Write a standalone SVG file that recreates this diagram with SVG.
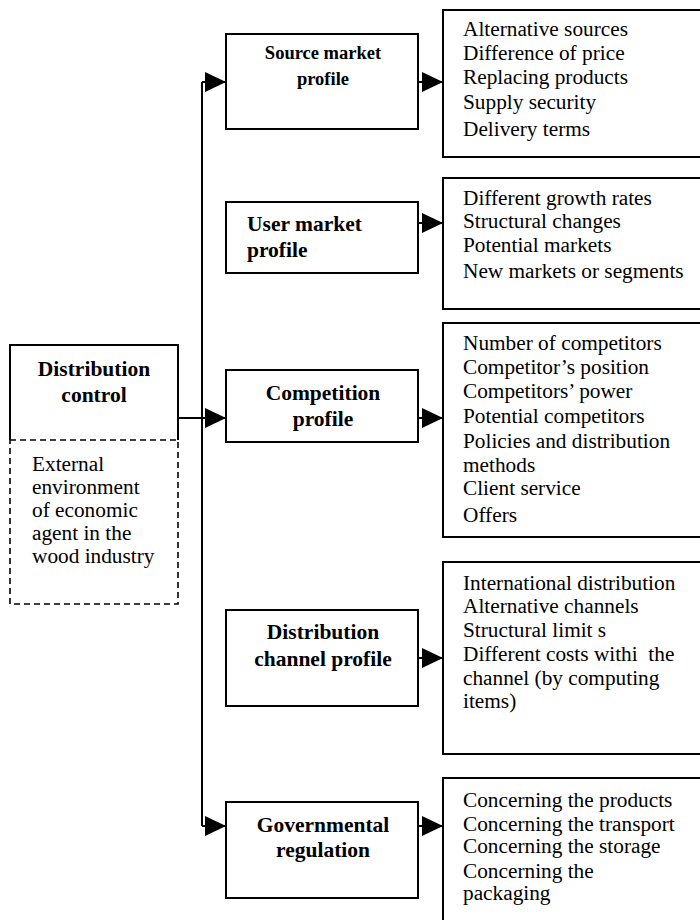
<svg xmlns="http://www.w3.org/2000/svg" width="700" height="920" viewBox="0 0 700 920">
<style>
.box{fill:#fff;stroke:#000;stroke-width:2}
.ln{fill:none;stroke:#000;stroke-width:2}
.dash{fill:none;stroke:#000;stroke-width:1.6;stroke-dasharray:6 4}
.b{font-family:"Liberation Serif","Times New Roman",serif;font-weight:bold;font-size:21.5px;fill:#000}
.bs{font-family:"Liberation Serif","Times New Roman",serif;font-weight:bold;font-size:18.5px;fill:#000}
.r{font-family:"Liberation Serif","Times New Roman",serif;font-size:21.3px;fill:#000}
.c{text-anchor:middle}
</style>
<defs>
<marker id="ah" markerUnits="userSpaceOnUse" markerWidth="22" markerHeight="22" refX="21" refY="10" orient="auto" viewBox="0 0 22 22">
<path d="M0,0 L21,10 L0,20 Z" fill="#000"/>
</marker>
</defs>
<rect width="700" height="920" fill="#fff"/>

<g id="connectors">
<path class="ln" d="M178,418 H226" marker-end="url(#ah)"/>
<path class="ln" d="M202,82 V826"/>
<path class="ln" d="M202,82 H226" marker-end="url(#ah)"/>
<path class="ln" d="M202,826 H226" marker-end="url(#ah)"/>
<path class="ln" d="M418,82 H443" marker-end="url(#ah)"/>
<path class="ln" d="M418,223 H443" marker-end="url(#ah)"/>
<path class="ln" d="M418,418 H443" marker-end="url(#ah)"/>
<path class="ln" d="M418,658 H443" marker-end="url(#ah)"/>
<path class="ln" d="M418,826 H443" marker-end="url(#ah)"/>
</g>

<g id="distribution-control">
<path class="ln" d="M10,440 V345 H178 V440"/>
<path class="dash" d="M10,440 H178 V604 H10 Z"/>
<text class="b c" x="94" y="376">Distribution</text>
<text class="b c" x="94" y="402">control</text>
<text class="r" x="32" y="471">External</text>
<text class="r" x="32" y="494">environment</text>
<text class="r" x="32" y="517">of economic</text>
<text class="r" x="32" y="540">agent in the</text>
<text class="r" x="32" y="563">wood industry</text>
</g>

<g id="source-market">
<rect class="box" x="226" y="34" width="192" height="95"/>
<text class="bs c" x="323" y="59">Source market</text>
<text class="bs c" x="323" y="85">profile</text>
</g>
<g id="source-list">
<rect class="box" x="443" y="10" width="270" height="147"/>
<text class="r" x="463" y="36">Alternative sources</text>
<text class="r" x="463" y="60">Difference of price</text>
<text class="r" x="463" y="84">Replacing products</text>
<text class="r" x="463" y="109">Supply security</text>
<text class="r" x="463" y="136">Delivery terms</text>
</g>

<g id="user-market">
<rect class="box" x="226" y="202" width="192" height="71"/>
<text class="b" x="247" y="231">User market</text>
<text class="b" x="247" y="257">profile</text>
</g>
<g id="user-list">
<rect class="box" x="443" y="178" width="270" height="131"/>
<text class="r" x="463" y="205">Different growth rates</text>
<text class="r" x="463" y="228">Structural changes</text>
<text class="r" x="463" y="252">Potential markets</text>
<text class="r" x="463" y="278">New markets or segments</text>
</g>

<g id="competition">
<rect class="box" x="226" y="370" width="192" height="72"/>
<text class="b c" x="323" y="400">Competition</text>
<text class="b c" x="323" y="426">profile</text>
</g>
<g id="competition-list">
<rect class="box" x="443" y="323" width="270" height="214"/>
<text class="r" x="463" y="350">Number of competitors</text>
<text class="r" x="463" y="374">Competitor’s position</text>
<text class="r" x="463" y="398">Competitors’ power</text>
<text class="r" x="463" y="423">Potential competitors</text>
<text class="r" x="463" y="448">Policies and distribution</text>
<text class="r" x="463" y="472">methods</text>
<text class="r" x="463" y="495">Client service</text>
<text class="r" x="463" y="522">Offers</text>
</g>

<g id="distribution-channel">
<rect class="box" x="226" y="610" width="192" height="96"/>
<text class="b c" x="323" y="639">Distribution</text>
<text class="b c" x="323" y="666">channel profile</text>
</g>
<g id="channel-list">
<rect class="box" x="443" y="562" width="270" height="192"/>
<text class="r" x="463" y="590">International distribution</text>
<text class="r" x="463" y="613">Alternative channels</text>
<text class="r" x="463" y="637">Structural limit s</text>
<text class="r" x="463" y="661" xml:space="preserve">Different costs withi  the</text>
<text class="r" x="463" y="685">channel (by computing</text>
<text class="r" x="463" y="708">items)</text>
</g>

<g id="governmental">
<rect class="box" x="226" y="802" width="192" height="96"/>
<text class="b c" x="323" y="832">Governmental</text>
<text class="b c" x="323" y="857">regulation</text>
</g>
<g id="governmental-list">
<rect class="box" x="443" y="778" width="270" height="160"/>
<text class="r" x="463" y="807">Concerning the products</text>
<text class="r" x="463" y="831">Concerning the transport</text>
<text class="r" x="463" y="853">Concerning the storage</text>
<text class="r" x="463" y="878">Concerning the</text>
<text class="r" x="463" y="900">packaging</text>
</g>
</svg>
